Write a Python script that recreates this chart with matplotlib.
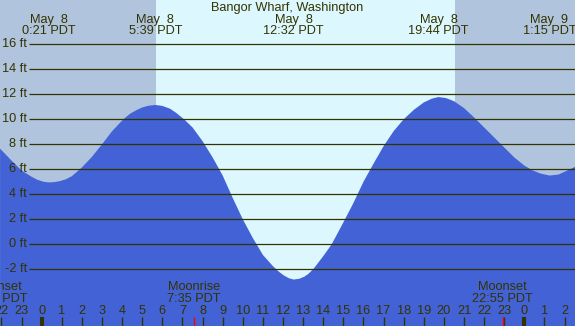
import numpy as np
import matplotlib.pyplot as plt

# Tide height (ft), hours from May 8 0:00 PDT
hours = [-2.07, -1.5, -1.0, -0.5, -0.2, 0.1, 0.35, 0.6, 0.9, 1.2, 1.5, 2.0,
         2.5, 3.0, 3.5, 4.06, 4.4, 4.72, 5.0, 5.3, 5.65, 6.0, 6.38, 6.7, 7.08,
         7.5, 8.0, 8.5, 9.0, 9.5, 10.0, 10.5, 11.0, 11.5, 11.8, 12.05, 12.3,
         12.53, 12.8, 13.05, 13.25, 13.5, 14.0, 14.42, 15.0, 15.5, 16.0, 16.5,
         17.0, 17.5, 18.0, 18.5, 19.0, 19.4, 19.73, 20.1, 20.5, 21.0, 21.5,
         22.0, 22.5, 23.0, 23.5, 24.0, 24.4, 24.8, 25.25, 25.7, 26.0, 26.53]
heights = [7.65, 6.7, 5.9, 5.4, 5.15, 5.0, 4.95, 4.97, 5.05, 5.2, 5.45, 6.15,
           7.0, 8.0, 9.05, 10.0, 10.45, 10.74, 10.95, 11.08, 11.15, 11.07,
           10.85, 10.5, 10.0, 9.35, 8.25, 6.95, 5.5, 3.7, 2.0, 0.5, -0.85,
           -1.75, -2.2, -2.5, -2.72, -2.82, -2.76, -2.6, -2.38, -2.0, -0.95,
           0.0, 1.75, 3.3, 5.0, 6.45, 7.85, 9.05, 10.0, 10.75, 11.35, 11.65,
           11.78, 11.7, 11.45, 10.9, 10.15, 9.35, 8.55, 7.75, 6.95, 6.3, 5.92,
           5.66, 5.5, 5.58, 5.8, 6.2]

# High / low tide labels
extreme_hours = [0.35, 5.65, 12.53, 19.73, 25.25]
extreme_dates = ["May  8", "May  8", "May  8", "May  8", "May  9"]
extreme_times = ["0:21 PDT", "5:39 PDT", "12:32 PDT", "19:44 PDT", "1:15 PDT"]

sunrise, sunset = 5.67, 20.55
moon_hours = [-2.2, 7.58, 22.92]
moon_events = ["Moonset", "Moonrise", "Moonset"]
moon_times = ["21:48 PDT", "7:35 PDT", "22:55 PDT"]

ft_levels = [-2, 0, 2, 4, 6, 8, 10, 12, 14, 16]
title = "Bangor Wharf, Washington"

night_col = "#b0c4de"
day_col = "#ddf7ff"
water_col = "#4262d6"
ink = "#333300"
fs = 9.2

plt.rcParams['font.family'] = ['Liberation Sans', 'DejaVu Sans']

W, H = 575, 326
fig = plt.figure(figsize=(W / 100, H / 100), dpi=100)
ax = fig.add_axes([0, 0, 1, 1])
ax.axis('off')

x0, px_per_h = 41.7, 20.11
y0, px_per_ft = 244.3, 12.5
xmin, xmax = -x0 / px_per_h, (W - x0) / px_per_h
ymin, ymax = (y0 - H) / px_per_ft, y0 / px_per_ft
ax.set_xlim(xmin, xmax)
ax.set_ylim(ymin, ymax)

def py(pix):
    # figure pixel row (from top) -> feet
    return (y0 - pix) / px_per_ft

def ph(pix):
    return (pix - x0) / px_per_h

# day / night background
ax.axvspan(xmin, xmax, color=day_col, zorder=0, lw=0)
ax.axvspan(xmin, sunrise, color=night_col, zorder=0, lw=0)
ax.axvspan(sunset, xmax, color=night_col, zorder=0, lw=0)

# water
ax.fill_between(hours, heights, ymin, color=water_col, lw=0, zorder=1)

# level lines and labels
for lv in ft_levels:
    ax.hlines(lv, ph(29), xmax, color=ink, lw=0.9, zorder=2)
    ax.text(ph(27), lv, f"{lv} ft", ha='right', va='center', color=ink,
            fontsize=fs, zorder=3)

# title and tide labels
ax.text(ph(287), py(8), title, ha='center', va='center', color=ink, fontsize=fs)
for hh, d, t in zip(extreme_hours, extreme_dates, extreme_times):
    ax.text(hh, py(19.5), d, ha='center', va='center', color=ink, fontsize=fs)
    ax.text(hh, py(31), t, ha='center', va='center', color=ink, fontsize=fs)

# moon labels
for hh, ev, t in zip(moon_hours, moon_events, moon_times):
    ax.text(hh, py(287), ev, ha='center', va='center', color=ink, fontsize=fs)
    ax.text(hh, py(298.5), t, ha='center', va='center', color=ink, fontsize=fs)

# hour ticks and labels
for hh in range(-2, 27):
    lab = str(hh % 24)
    ax.text(hh, py(311), lab, ha='center', va='center', color=ink, fontsize=fs)
    lw = 3 if hh % 24 == 0 else 1
    ax.vlines(hh, py(326), py(317), color=ink, lw=lw, zorder=3)
for hh in moon_hours:
    ax.vlines(hh, py(326), py(317), color='red', lw=1, zorder=3)

fig.savefig("out.png", dpi=100)
